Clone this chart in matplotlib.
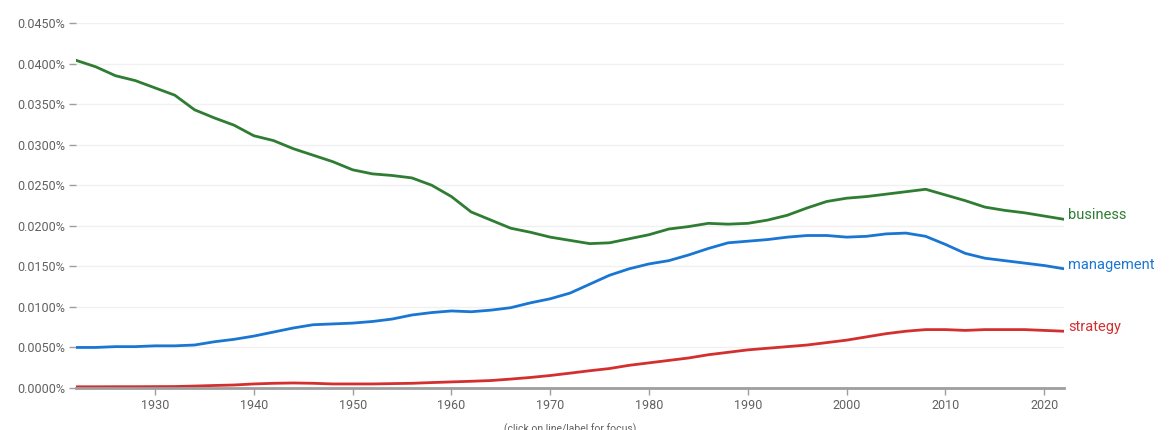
import numpy as np
import matplotlib
matplotlib.use('Agg')
import matplotlib.pyplot as plt
from matplotlib.ticker import FuncFormatter

plt.rcParams['font.family'] = ['Roboto', 'DejaVu Sans']

# Datos (porcentaje, cada 2 anos)
years = [1922, 1924, 1926, 1928, 1930, 1932, 1934, 1936, 1938, 1940,
         1942, 1944, 1946, 1948, 1950, 1952, 1954, 1956, 1958, 1960,
         1962, 1964, 1966, 1968, 1970, 1972, 1974, 1976, 1978, 1980,
         1982, 1984, 1986, 1988, 1990, 1992, 1994, 1996, 1998, 2000,
         2002, 2004, 2006, 2008, 2010, 2012, 2014, 2016, 2018, 2020, 2022]

business = [0.0404, 0.0396, 0.0385, 0.0379, 0.0370, 0.0361, 0.0343, 0.0333, 0.0324, 0.0311,
            0.0305, 0.0295, 0.0287, 0.0279, 0.0269, 0.0264, 0.0262, 0.0259, 0.0250, 0.0236,
            0.0217, 0.0207, 0.0197, 0.0192, 0.0186, 0.0182, 0.0178, 0.0179, 0.0184, 0.0189,
            0.0196, 0.0199, 0.0203, 0.0202, 0.0203, 0.0207, 0.0213, 0.0222, 0.0230, 0.0234,
            0.0236, 0.0239, 0.0242, 0.0245, 0.0238, 0.0231, 0.0223, 0.0219, 0.0216, 0.0212, 0.0208]

management = [0.0050, 0.0050, 0.0051, 0.0051, 0.0052, 0.0052, 0.0053, 0.0057, 0.0060, 0.0064,
              0.0069, 0.0074, 0.0078, 0.0079, 0.0080, 0.0082, 0.0085, 0.0090, 0.0093, 0.0095,
              0.0094, 0.0096, 0.0099, 0.0105, 0.0110, 0.0117, 0.0128, 0.0139, 0.0147, 0.0153,
              0.0157, 0.0164, 0.0172, 0.0179, 0.0181, 0.0183, 0.0186, 0.0188, 0.0188, 0.0186,
              0.0187, 0.0190, 0.0191, 0.0187, 0.0177, 0.0166, 0.0160, 0.0157, 0.0154, 0.0151, 0.0147]

strategy = [0.00015, 0.00015, 0.00016, 0.00016, 0.00017, 0.00018, 0.00024, 0.00031, 0.00037, 0.00050,
            0.00058, 0.00062, 0.00058, 0.00050, 0.00050, 0.00050, 0.00054, 0.00058, 0.00067, 0.00075,
            0.00083, 0.00092, 0.00110, 0.00130, 0.00154, 0.00183, 0.00213, 0.00240, 0.00280, 0.00310,
            0.00340, 0.00370, 0.00410, 0.00440, 0.00470, 0.00490, 0.00510, 0.00530, 0.00560, 0.00590,
            0.00630, 0.00670, 0.00700, 0.00720, 0.00720, 0.00710, 0.00720, 0.00720, 0.00720, 0.00710, 0.00700]

series = [('business', business, '#2e7d32'),
          ('management', management, '#1976d2'),
          ('strategy', strategy, '#d32f2f')]

yticks = [0.0, 0.005, 0.010, 0.015, 0.020, 0.025, 0.030, 0.035, 0.040, 0.045]
xticks = [1930, 1940, 1950, 1960, 1970, 1980, 1990, 2000, 2010, 2020]

fig = plt.figure(figsize=(11.69, 4.30), dpi=100)
ax = fig.add_axes([76 / 1169, 1 - 388 / 430, (1064 - 76) / 1169, (388 - 23) / 430])

for nombre, valores, color in series:
    ax.plot(years, valores, color=color, linewidth=2, solid_capstyle='round',
            solid_joinstyle='round', zorder=3)
    ax.annotate(nombre, xy=(years[-1], valores[-1]), xytext=(3, 3), textcoords='offset points',
                color=color, fontsize=10.5, va='center', ha='left', annotation_clip=False)

ax.set_xlim(1922, 2022)
ax.set_ylim(0, 0.045)
ax.set_yticks(yticks)
ax.set_xticks(xticks)
ax.yaxis.set_major_formatter(FuncFormatter(lambda v, p: f'{v:.4f}%'))
ax.grid(True, axis='y', color='#f0f0f0', linewidth=1, zorder=0)

for lado in ['top', 'right', 'left']:
    ax.spines[lado].set_visible(False)
ax.spines['bottom'].set_color('#9e9e9e')
ax.spines['bottom'].set_linewidth(2)
ax.spines['bottom'].set_zorder(4)

ax.tick_params(axis='y', length=5, width=1, color='#9e9e9e', pad=3, labelsize=9, labelcolor='#616161')
ax.tick_params(axis='x', length=5, width=1, color='#9e9e9e', pad=3, labelsize=9, labelcolor='#616161')

fig.text(570 / 1169, 1 - 429 / 430, '(click on line/label for focus)', ha='center', va='center',
         fontsize=7.5, color='#616161')

fig.savefig('out.png', dpi=100)
